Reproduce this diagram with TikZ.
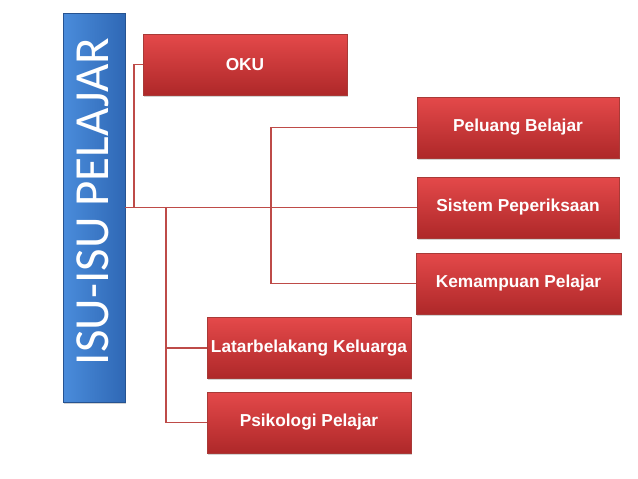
\documentclass[tikz,border=0pt]{standalone}
\usepackage{fontspec}
\newfontfamily\boxfont{Liberation Sans}
\newfontfamily\titlefont{Carlito}
\usetikzlibrary{shadows}
\definecolor{linered}{HTML}{BE4B48}
\definecolor{boxtop}{HTML}{E4494A}
\definecolor{boxbot}{HTML}{AE2829}
\definecolor{boxedge}{HTML}{A83A37}
\definecolor{bluetop}{HTML}{4A8CDB}
\definecolor{bluebot}{HTML}{2F68B5}
\tikzset{
  redbox/.style={draw=boxedge, line width=0.6pt, top color=boxtop, bottom color=boxbot,
    minimum height=61pt, inner sep=0pt, text=white,
    font=\boxfont\bfseries\fontsize{17.3}{19}\selectfont,
    drop shadow={shadow xshift=1.2pt, shadow yshift=-1.8pt, opacity=0.35}},
  bluebox/.style={draw=bluebot!80!black, line width=0.5pt, left color=bluetop, right color=bluebot,
    minimum width=62pt, minimum height=389pt, inner sep=0pt,
    drop shadow={shadow xshift=1.2pt, shadow yshift=-1.8pt, opacity=0.35}},
  titletxt/.style={rotate=90, text=white, font=\titlefont\fontsize{49}{52}\selectfont, inner sep=0pt},
  conn/.style={draw=linered, line width=1.6pt}
}
\begin{document}
\begin{tikzpicture}[x=1pt,y=-1pt]
\useasboundingbox (0,0) rectangle (638,479);
% nodes
\node[bluebox] (title) at (94,207.5) {};
\node[titletxt] (titletext) at (93,201.5) {ISU-ISU PELAJAR};
\node[redbox, minimum width=204pt] (oku) at (245,64.5) {OKU};
\node[redbox, minimum width=202pt] (peluang) at (518,127.5) {Peluang Belajar};
\node[redbox, minimum width=202pt] (sistem) at (518,207.5) {Sistem Peperiksaan};
\node[redbox, minimum width=205pt] (kemampuan) at (518.5,283.5) {Kemampuan Pelajar};
\node[redbox, minimum width=204pt] (latar) at (309,348) {Latarbelakang Keluarga};
\node[redbox, minimum width=204pt] (psiko) at (309,422.5) {Psikologi Pelajar};
% junctions
\coordinate (jo) at (134,207.5);
\coordinate (jr) at (271,207.5);
\coordinate (jl) at (166,207.5);
% connectors
\draw[conn] (title.east |- sistem.west) -- (sistem.west);
\draw[conn] (oku.west) -| (jo);
\draw[conn] (peluang.west) -| (jr) |- (kemampuan.west);
\draw[conn] (jl) |- (psiko.west);
\draw[conn] (jl |- latar.west) -- (latar.west);
\end{tikzpicture}
\end{document}
